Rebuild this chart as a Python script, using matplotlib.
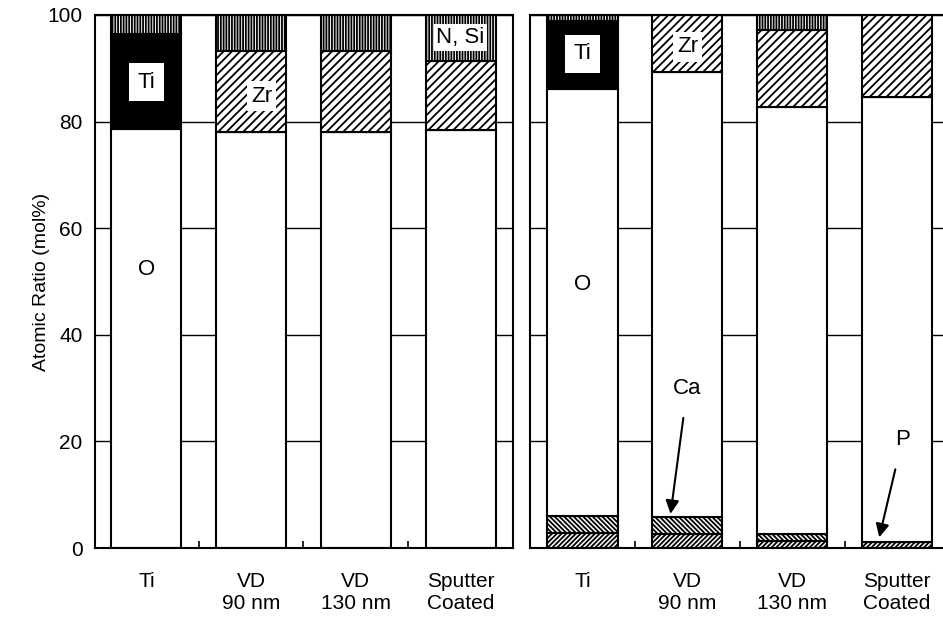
import matplotlib
matplotlib.use("Agg")
import matplotlib.pyplot as plt
import numpy as np

plt.rcParams['font.family'] = ['Liberation Sans', 'DejaVu Sans']
plt.rcParams['hatch.linewidth'] = 1.3

categories = ['Ti', 'VD\n90 nm', 'VD\n130 nm', 'Sputter\nCoated']

# left panel: composition (mol%) stacked from the bottom
left_O = [78.6, 78.0, 78.0, 78.4]
left_Ti = [17.8, 0.0, 0.0, 0.0]
left_Zr = [0.0, 15.2, 15.2, 13.0]
left_NSi = [3.6, 6.8, 6.8, 8.6]

# right panel
right_P = [2.8, 2.6, 1.3, 1.1]
right_Ca = [3.2, 3.2, 1.3, 0.0]
right_O = [80.1, 83.5, 80.1, 83.5]
right_Ti = [12.7, 0.0, 0.0, 0.0]
right_Zr = [0.0, 10.7, 14.5, 15.4]
right_NSi = [1.2, 0.0, 2.8, 0.0]

# (face colour, hatch) for each element
styles = {
    'P': ('white', '/' * 7),
    'Ca': ('white', '\\' * 7),
    'O': ('white', None),
    'Ti': ('black', None),
    'Zr': ('white', '////'),
    'N, Si': ('white', '|' * 6),
}

W = 943
H = 623
fig = plt.figure(figsize=(W / 100, H / 100), dpi=100)
ax1 = fig.add_axes([95 / W, 75 / H, (513 - 95) / W, 533 / H])
ax2 = fig.add_axes([530 / W, 75 / H, 430 / W, 533 / H])

x = np.arange(len(categories))
width = 0.67


def stack(ax, layers):
    bottom = np.zeros(len(categories))
    for name, vals in layers:
        vals = np.array(vals)
        fc, hatch = styles[name]
        ax.bar(x, vals, width, bottom=bottom, color=fc, edgecolor='black',
               linewidth=1.5, hatch=hatch, zorder=2)
        bottom += vals


stack(ax1, [('O', left_O), ('Ti', left_Ti), ('Zr', left_Zr), ('N, Si', left_NSi)])
stack(ax2, [('P', right_P), ('Ca', right_Ca), ('O', right_O), ('Ti', right_Ti),
            ('Zr', right_Zr), ('N, Si', right_NSi)])

for ax in (ax1, ax2):
    ax.set_ylim(0, 100)
    ax.set_yticks([0, 20, 40, 60, 80, 100])
    ax.yaxis.grid(True, color='black', linewidth=1.0)
    ax.set_axisbelow(True)
    ax.set_xticks(x)
    ax.set_xticklabels(categories, fontsize=15, linespacing=1.2)
    ax.set_xticks([0.5, 1.5, 2.5, 3.5], minor=True)
    ax.tick_params(axis='x', which='major', length=0, pad=17)
    ax.tick_params(axis='x', which='minor', direction='in', length=5, width=1.2)
    ax.tick_params(axis='y', direction='in', length=0, pad=9, labelsize=15)
    for s in ax.spines.values():
        s.set_linewidth(1.5)

ax1.set_xlim(-0.49, 3.5)
ax2.set_xlim(-0.5, 3.6)
ax2.tick_params(axis='y', labelleft=False)
ax1.set_ylabel('Atomic Ratio (mol%)', fontsize=14, labelpad=-2)

box = dict(facecolor='white', edgecolor='none', pad=6)
fs = 16

ax1.text(0, 87.4, 'Ti', ha='center', va='center', fontsize=fs, bbox=box, zorder=5)
ax1.text(1.1, 84.8, 'Zr', ha='center', va='center', fontsize=fs,
         bbox=dict(facecolor='white', edgecolor='none', pad=3), zorder=5)
ax1.text(3, 95.8, 'N, Si', ha='center', va='center', fontsize=fs,
         bbox=dict(facecolor='white', edgecolor='none', pad=2), zorder=5)
ax1.text(0, 52.3, 'O', ha='center', va='center', fontsize=fs, zorder=5)

ax2.text(0, 92.7, 'Ti', ha='center', va='center', fontsize=fs, bbox=box, zorder=5)
ax2.text(1, 94.0, 'Zr', ha='center', va='center', fontsize=fs,
         bbox=dict(facecolor='white', edgecolor='none', pad=3), zorder=5)
ax2.text(0, 49.4, 'O', ha='center', va='center', fontsize=fs, zorder=5)

arrow = dict(arrowstyle='-|>', color='black', lw=1.5, mutation_scale=20,
             shrinkA=0, shrinkB=0)
ax2.annotate('Ca', xy=(0.84, 6.4), xytext=(1.0, 30.0), ha='center', va='center',
             fontsize=fs, arrowprops=dict(arrow, shrinkA=12), zorder=5)
ax2.annotate('P', xy=(2.83, 2.0), xytext=(3.05, 20.3), ha='center', va='center',
             fontsize=fs, arrowprops=dict(arrow, shrinkA=12), zorder=5)

fig.savefig('out.png', dpi=100)
